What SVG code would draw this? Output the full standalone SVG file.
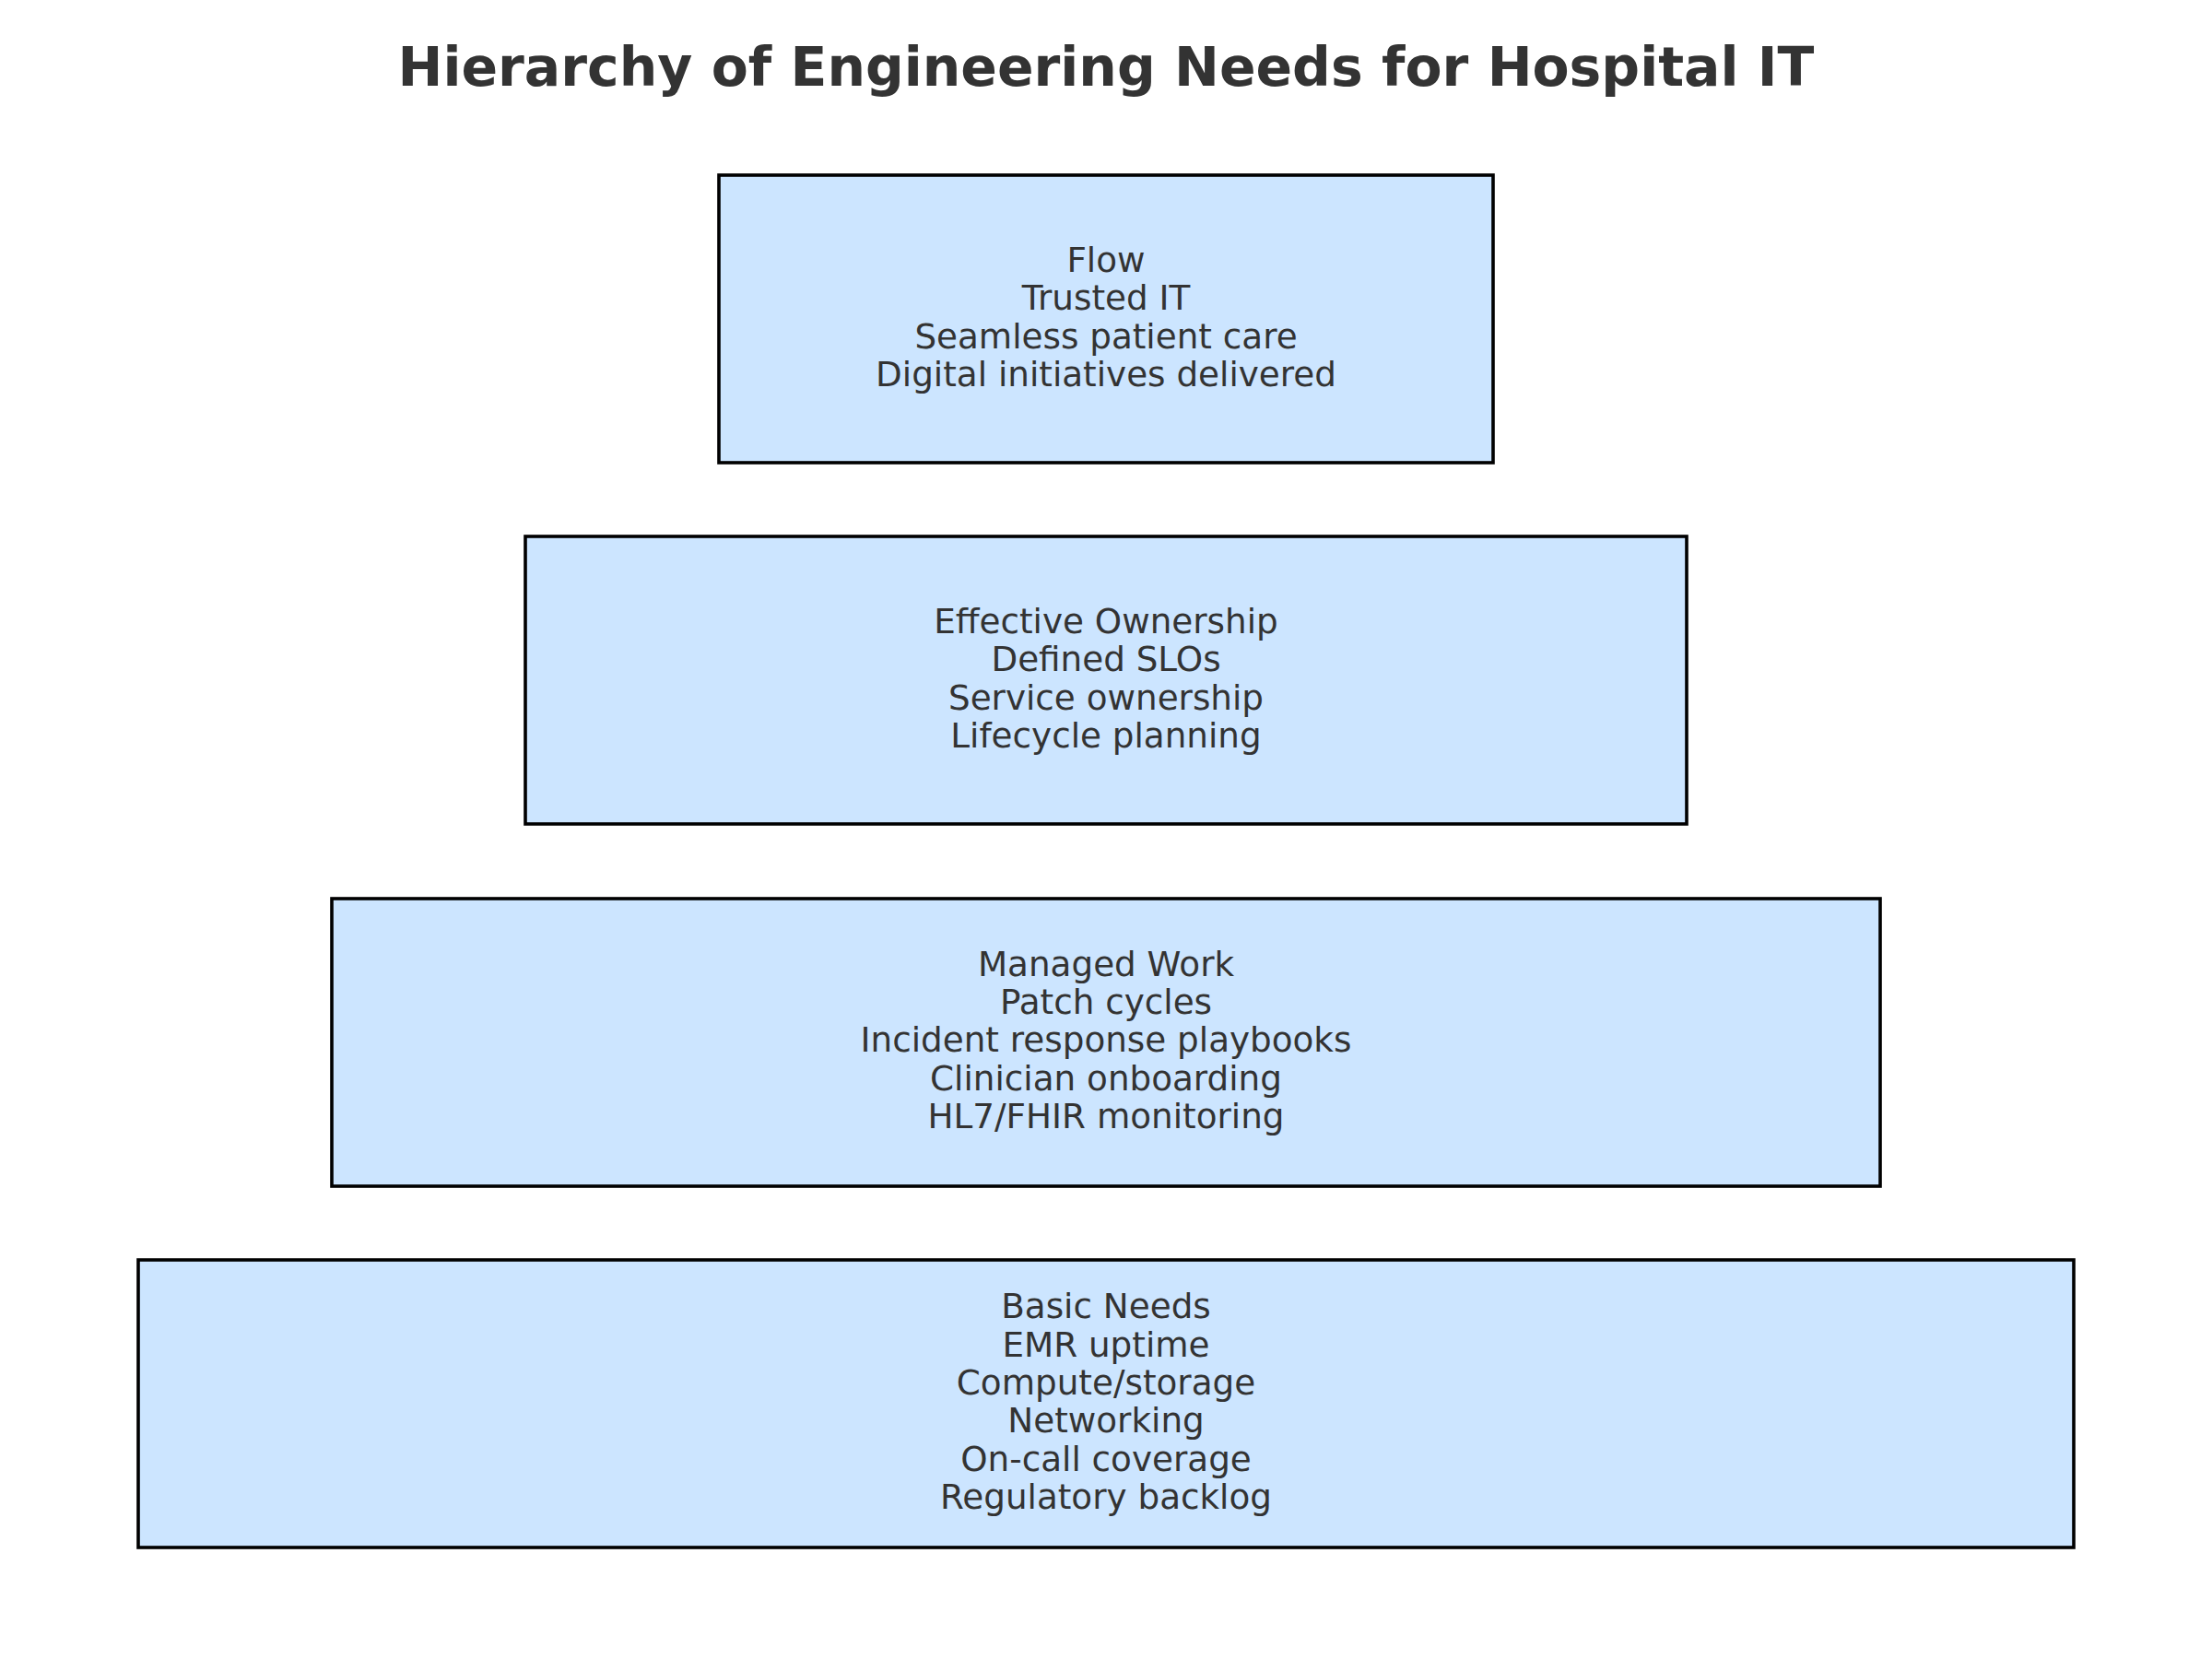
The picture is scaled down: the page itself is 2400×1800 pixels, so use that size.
<svg xmlns="http://www.w3.org/2000/svg" width="2400" height="1800" viewBox="0 0 2400 1800">
<style>
.box{fill:#cce5ff;stroke:#000000;stroke-width:3.6}
.lbl{font-family:"DejaVu Sans",sans-serif;font-size:37.3px;fill:#333333;text-anchor:middle}
.title{font-family:"DejaVu Sans",sans-serif;font-size:58.4px;font-weight:bold;fill:#333333;text-anchor:middle}
</style>
<rect width="2400" height="1800" fill="#ffffff"/>
<text class="title" x="1200" y="93">Hierarchy of Engineering Needs for Hospital IT</text>
<g id="connectors"></g>
<g id="flow">
<rect class="box" x="780" y="190" width="840" height="312"/>
<text class="lbl"><tspan x="1200" y="295">Flow</tspan><tspan x="1200" y="336.3">Trusted IT</tspan><tspan x="1200" y="377.6">Seamless patient care</tspan><tspan x="1200" y="418.9">Digital initiatives delivered</tspan></text>
</g>
<g id="effective-ownership">
<rect class="box" x="570" y="582" width="1260" height="312"/>
<text class="lbl"><tspan x="1200" y="687">Effective Ownership</tspan><tspan x="1200" y="728.3">Defined SLOs</tspan><tspan x="1200" y="769.6">Service ownership</tspan><tspan x="1200" y="810.9">Lifecycle planning</tspan></text>
</g>
<g id="managed-work">
<rect class="box" x="360" y="975" width="1680" height="312"/>
<text class="lbl"><tspan x="1200" y="1058.6">Managed Work</tspan><tspan x="1200" y="1099.9">Patch cycles</tspan><tspan x="1200" y="1141.2">Incident response playbooks</tspan><tspan x="1200" y="1182.5">Clinician onboarding</tspan><tspan x="1200" y="1223.8">HL7/FHIR monitoring</tspan></text>
</g>
<g id="basic-needs">
<rect class="box" x="150" y="1367" width="2100" height="312"/>
<text class="lbl"><tspan x="1200" y="1430.3">Basic Needs</tspan><tspan x="1200" y="1471.6">EMR uptime</tspan><tspan x="1200" y="1512.9">Compute/storage</tspan><tspan x="1200" y="1554.2">Networking</tspan><tspan x="1200" y="1595.5">On-call coverage</tspan><tspan x="1200" y="1636.8">Regulatory backlog</tspan></text>
</g>
</svg>
